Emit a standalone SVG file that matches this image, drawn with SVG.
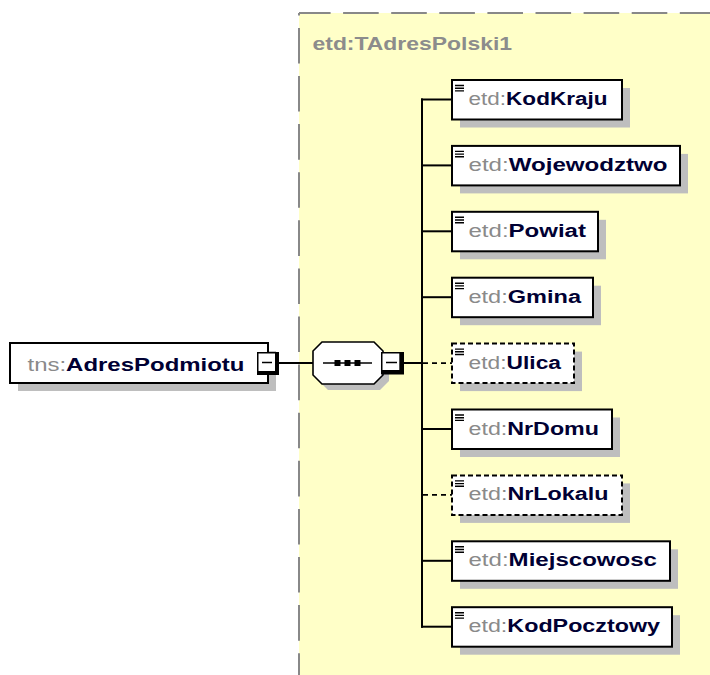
<svg xmlns="http://www.w3.org/2000/svg" xmlns:xlink="http://www.w3.org/1999/xlink" width="710" height="675" viewBox="0 0 710 675">
<style>
.box{fill:#ffffff;stroke:#000000;stroke-width:2}
.opt{stroke-dasharray:5 3}
.shadow{fill:#bebebe}
.conn{stroke:#000000;stroke-width:2;fill:none}
.dconn{stroke:#000000;stroke-width:1.6;fill:none;stroke-dasharray:5 4}
.lbl{font-family:"Liberation Sans",Arial,sans-serif;font-size:17.5px}
.pre{fill:#8a8a8a;font-weight:normal}
.nm{fill:#000033;font-weight:bold}
.title{font-family:"Liberation Sans",Arial,sans-serif;font-size:18.5px;font-weight:bold;fill:#8c8c8c}
.border{stroke:#888888;stroke-width:2;fill:none;stroke-dasharray:35.6 12.5}
.icon{stroke:#000000;stroke-width:1.4;fill:none}
</style>
<defs>
<path id="ico" class="icon" d="M0 0h9M0 2.7h9M0 5.4h9"/>
</defs>

<g id="complexType">
<rect x="299" y="13" width="420" height="670" fill="#ffffc8"/>
<line class="border" x1="299" y1="13" x2="720" y2="13" stroke-dashoffset="4"/>
<line class="border" x1="299" y1="13" x2="299" y2="690" stroke-dashoffset="33.2"/>
<text class="title" x="312.5" y="49.5" textLength="199.5" lengthAdjust="spacingAndGlyphs">etd:TAdresPolski1</text>
</g>

<g id="connectors">
<line class="conn" x1="279" y1="363" x2="313" y2="363"/>
<line class="conn" x1="404" y1="363" x2="422" y2="363"/>
<line class="conn" x1="422" y1="98.5" x2="422" y2="627.7"/>
<line class="conn" x1="421" y1="99.5" x2="452" y2="99.5"/>
<line class="conn" x1="421" y1="165.4" x2="452" y2="165.4"/>
<line class="conn" x1="421" y1="231.3" x2="452" y2="231.3"/>
<line class="conn" x1="421" y1="297.2" x2="452" y2="297.2"/>
<line class="dconn" x1="423" y1="363.1" x2="452" y2="363.1"/>
<line class="conn" x1="421" y1="429" x2="452" y2="429"/>
<line class="dconn" x1="423" y1="494.9" x2="452" y2="494.9"/>
<line class="conn" x1="421" y1="560.8" x2="452" y2="560.8"/>
<line class="conn" x1="421" y1="626.7" x2="452" y2="626.7"/>
</g>

<g id="AdresPodmiotu">
<rect class="shadow" x="18" y="351" width="258" height="40"/>
<rect class="box" x="10" y="343" width="258" height="40"/>
<text class="lbl" x="27.5" y="370.5" style="font-size:19px" textLength="217" lengthAdjust="spacingAndGlyphs"><tspan class="pre">tns:</tspan><tspan class="nm">AdresPodmiotu</tspan></text>
<rect x="257" y="352" width="22" height="23" fill="#000000"/>
<rect x="258.5" y="353.5" width="16.5" height="17.5" fill="#ffffff"/>
<line x1="262" y1="362.5" x2="272" y2="362.5" stroke="#000000" stroke-width="1.5"/>
</g>

<g id="sequence">
<path class="shadow" d="M328 348H380L389 357V381L380 390H328L319 381V357Z"/>
<path d="M322 342H374L383 351V375L374 384H322L313 375V351Z" fill="#ffffff" stroke="#000000" stroke-width="1.6"/>
<line x1="323" y1="363" x2="372" y2="363" stroke="#000000" stroke-width="1.6"/>
<rect x="334.5" y="360" width="6" height="6" fill="#000000"/>
<rect x="344.5" y="360" width="6" height="6" fill="#000000"/>
<rect x="354.5" y="360" width="6" height="6" fill="#000000"/>
<rect x="381" y="352" width="23" height="22.5" fill="#000000"/>
<rect x="382.5" y="353.5" width="16.8" height="16.5" fill="#ffffff"/>
<line x1="386" y1="362.5" x2="397" y2="362.5" stroke="#000000" stroke-width="1.5"/>
</g>

<g id="KodKraju">
<rect class="shadow" x="460" y="88" width="170" height="39.5"/>
<rect class="box" x="452" y="80" width="170" height="39.5"/>
<use xlink:href="#ico" x="455" y="85.5"/>
<text class="lbl" x="468.5" y="105" textLength="139" lengthAdjust="spacingAndGlyphs"><tspan class="pre">etd:</tspan><tspan class="nm">KodKraju</tspan></text>
</g>

<g id="Wojewodztwo">
<rect class="shadow" x="460" y="153.9" width="228" height="39.5"/>
<rect class="box" x="452" y="145.9" width="228" height="39.5"/>
<use xlink:href="#ico" x="455" y="151.4"/>
<text class="lbl" x="468.5" y="170.9" textLength="199" lengthAdjust="spacingAndGlyphs"><tspan class="pre">etd:</tspan><tspan class="nm">Wojewodztwo</tspan></text>
</g>

<g id="Powiat">
<rect class="shadow" x="460" y="219.8" width="146" height="39.5"/>
<rect class="box" x="452" y="211.8" width="146" height="39.5"/>
<use xlink:href="#ico" x="455" y="217.3"/>
<text class="lbl" x="468.5" y="236.8" textLength="117.5" lengthAdjust="spacingAndGlyphs"><tspan class="pre">etd:</tspan><tspan class="nm">Powiat</tspan></text>
</g>

<g id="Gmina">
<rect class="shadow" x="460" y="285.7" width="141" height="39.5"/>
<rect class="box" x="452" y="277.7" width="141" height="39.5"/>
<use xlink:href="#ico" x="455" y="283.2"/>
<text class="lbl" x="468.5" y="302.7" textLength="112.5" lengthAdjust="spacingAndGlyphs"><tspan class="pre">etd:</tspan><tspan class="nm">Gmina</tspan></text>
</g>

<g id="Ulica">
<rect class="shadow" x="460" y="351.6" width="122" height="39.5"/>
<rect class="box opt" x="452" y="343.6" width="122" height="39.5"/>
<use xlink:href="#ico" x="455" y="349.1"/>
<text class="lbl" x="468.5" y="368.6" textLength="92.5" lengthAdjust="spacingAndGlyphs"><tspan class="pre">etd:</tspan><tspan class="nm">Ulica</tspan></text>
</g>

<g id="NrDomu">
<rect class="shadow" x="460" y="417.5" width="160" height="39.5"/>
<rect class="box" x="452" y="409.5" width="160" height="39.5"/>
<use xlink:href="#ico" x="455" y="415"/>
<text class="lbl" x="468.5" y="434.5" textLength="130.5" lengthAdjust="spacingAndGlyphs"><tspan class="pre">etd:</tspan><tspan class="nm">NrDomu</tspan></text>
</g>

<g id="NrLokalu">
<rect class="shadow" x="460" y="483.4" width="170" height="39.5"/>
<rect class="box opt" x="452" y="475.4" width="170" height="39.5"/>
<use xlink:href="#ico" x="455" y="480.9"/>
<text class="lbl" x="468.5" y="500.4" textLength="140" lengthAdjust="spacingAndGlyphs"><tspan class="pre">etd:</tspan><tspan class="nm">NrLokalu</tspan></text>
</g>

<g id="Miejscowosc">
<rect class="shadow" x="460" y="549.3" width="218" height="39.5"/>
<rect class="box" x="452" y="541.3" width="218" height="39.5"/>
<use xlink:href="#ico" x="455" y="546.8"/>
<text class="lbl" x="468.5" y="566.3" textLength="188.5" lengthAdjust="spacingAndGlyphs"><tspan class="pre">etd:</tspan><tspan class="nm">Miejscowosc</tspan></text>
</g>

<g id="KodPocztowy">
<rect class="shadow" x="460" y="615.2" width="220" height="39.5"/>
<rect class="box" x="452" y="607.2" width="220" height="39.5"/>
<use xlink:href="#ico" x="455" y="612.7"/>
<text class="lbl" x="468.5" y="632.2" textLength="191.5" lengthAdjust="spacingAndGlyphs"><tspan class="pre">etd:</tspan><tspan class="nm">KodPocztowy</tspan></text>
</g>
</svg>
